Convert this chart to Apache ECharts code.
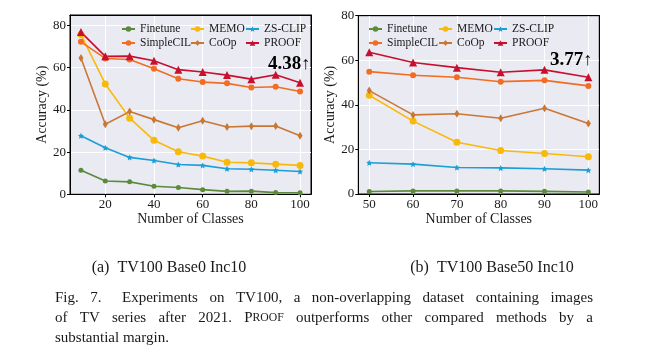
<!DOCTYPE html>
<html><head><meta charset="utf-8">
<script src="https://cdn.jsdelivr.net/npm/echarts@6/dist/echarts.min.js"></script>
<style>html,body{margin:0;padding:0;background:#fff}#c{width:648px;height:360px}</style>
</head><body><div id="c"></div>
<script>
// ---- data ----
const classesA = [10, 20, 30, 40, 50, 60, 70, 80, 90, 100];
const finetuneA = [11.4, 6.3, 5.9, 3.8, 3.2, 2.2, 1.4, 1.5, 0.8, 0.7];
const memoA = [75.7, 52.3, 36.1, 25.6, 20.2, 18.1, 15.2, 14.9, 14.3, 13.7];
const zsclipA = [27.8, 22.1, 17.5, 16.0, 14.1, 13.7, 12.1, 11.9, 11.4, 10.8];
const simplecilA = [72.3, 64.4, 63.9, 59.5, 54.8, 53.2, 52.6, 50.6, 51.0, 48.7];
const coopA = [64.6, 33.2, 39.2, 35.4, 31.5, 34.9, 31.9, 32.3, 32.4, 27.8];
const proofA = [76.9, 65.4, 65.5, 63.3, 59.1, 58.0, 56.5, 54.6, 56.7, 52.9];

const classesB = [50, 60, 70, 80, 90, 100];
const finetuneB = [1.1, 1.4, 1.4, 1.4, 1.2, 0.9];
const memoB = [44.3, 32.7, 23.2, 19.5, 18.2, 16.7];
const zsclipB = [14.0, 13.4, 11.9, 11.7, 11.3, 10.7];
const simplecilB = [54.9, 53.3, 52.4, 50.4, 51.0, 48.5];
const coopB = [46.4, 35.5, 36.0, 34.0, 38.5, 31.6];
const proofB = [63.6, 59.0, 56.7, 54.6, 55.7, 52.4];

const xTicksA = [20, 40, 60, 80, 100];
const xTicksB = [50, 60, 70, 80, 90, 100];
const yTicks = [0, 20, 40, 60, 80];
const gainA = '4.38';
const gainB = '3.77';
const subCapA = '(a)  TV100 Base0 Inc10';
const subCapB = '(b)  TV100 Base50 Inc10';

// ---- styles ----
const F = 'Liberation Serif';
const styles = {
  'Finetune':  {color: '#5b8a3a', symbol: 'circle', size: 5},
  'MEMO':      {color: '#f9b90a', symbol: 'circle', size: 7},
  'ZS-CLIP':   {color: '#1a9fd6', symbol: 'path://M0,-10L2.9,-4L9.5,-3.1L4.8,1.5L5.9,8.1L0,5L-5.9,8.1L-4.8,1.5L-9.5,-3.1L-2.9,-4Z', size: 6},
  'SimpleCIL': {color: '#f26c22', symbol: 'circle', size: 6},
  'CoOp':      {color: '#c97733', symbol: 'path://M0,-10L4,0L0,10L-4,0Z', size: [5, 8]},
  'PROOF':     {color: '#c8102e', symbol: 'triangle', size: 8}
};

function mk(name, xs, ys, idx) {
  const s = styles[name];
  return {
    name, type: 'line', xAxisIndex: idx, yAxisIndex: idx,
    data: xs.map((x, i) => [x, ys[i]]),
    symbol: s.symbol, symbolSize: s.size, showSymbol: true,
    lineStyle: {width: 1.6, color: s.color},
    itemStyle: {color: s.color},
    z: 3, animation: false
  };
}

const seriesList = [
  mk('Finetune', classesA, finetuneA, 0), mk('MEMO', classesA, memoA, 0), mk('ZS-CLIP', classesA, zsclipA, 0),
  mk('SimpleCIL', classesA, simplecilA, 0), mk('CoOp', classesA, coopA, 0), mk('PROOF', classesA, proofA, 0),
  mk('Finetune', classesB, finetuneB, 1), mk('MEMO', classesB, memoB, 1), mk('ZS-CLIP', classesB, zsclipB, 1),
  mk('SimpleCIL', classesB, simplecilB, 1), mk('CoOp', classesB, coopB, 1), mk('PROOF', classesB, proofB, 1)
];

function leg(names, left, top) {
  return {
    data: names, left, top, orient: 'vertical', padding: 0,
    itemWidth: 13, itemHeight: 7, itemGap: 1, selectedMode: false,
    textStyle: {fontFamily: F, fontSize: 11.5, color: '#1a1a1a', lineHeight: 13}
  };
}

function xAx(idx, min, max, ticks) {
  return {
    type: 'value', gridIndex: idx, min, max,
    name: 'Number of Classes', nameLocation: 'middle', nameGap: 17,
    nameTextStyle: {fontFamily: F, fontSize: 14, color: '#1a1a1a'},
    axisLine: {show: true, onZero: false, lineStyle: {color: '#000', width: 1}},
    axisTick: {show: true, length: 3, customValues: ticks, lineStyle: {color: '#000'}},
    axisLabel: {customValues: ticks, fontFamily: F, fontSize: 13, color: '#1a1a1a', margin: 4},
    splitLine: {show: true, lineStyle: {color: '#fff', width: 1}}
  };
}
function yAx(idx, max) {
  return {
    type: 'value', gridIndex: idx, min: 0, max,
    name: 'Accuracy (%)', nameLocation: 'middle', nameGap: 20,
    nameTextStyle: {fontFamily: F, fontSize: 14, color: '#1a1a1a'},
    axisLine: {show: true, lineStyle: {color: '#000', width: 1}},
    axisTick: {show: true, length: 3, customValues: yTicks, lineStyle: {color: '#000'}},
    axisLabel: {customValues: yTicks, fontFamily: F, fontSize: 13, color: '#1a1a1a', margin: 4},
    splitLine: {show: true, lineStyle: {color: '#fff', width: 1}}
  };
}
// frame axes (top / right) that only draw the black box edge
function frameX(idx, min, max) {
  return {type: 'value', gridIndex: idx, position: 'top', min, max, z: 5,
    axisLine: {show: true, onZero: false, lineStyle: {color: '#000', width: 1}},
    axisTick: {show: false}, axisLabel: {show: false}, splitLine: {show: false}};
}
function frameY(idx, max) {
  return {type: 'value', gridIndex: idx, position: 'right', min: 0, max, z: 5,
    axisLine: {show: true, onZero: false, lineStyle: {color: '#000', width: 1}},
    axisTick: {show: false}, axisLabel: {show: false}, splitLine: {show: false}};
}

// ---- caption layout (justified lines) ----
const ctx = document.createElement('canvas').getContext('2d');
const CAP = 15;
const SUB = 16;
function w(t, size) { ctx.font = size + 'px "' + F + '"'; return ctx.measureText(t).width; }
function wordEls(word) {
  if (word === 'PROOF') {
    return [{t: 'P', s: CAP}, {t: 'ROOF', s: CAP * 0.78}];
  }
  return [{t: word, s: CAP}];
}
const graphics = [];
function justifyLine(words, x0, x1, y, justify, extraAfter) {
  const items = words.map(wd => {
    const parts = wordEls(wd);
    return {parts, width: parts.reduce((a, p) => a + w(p.t, p.s), 0)};
  });
  const total = items.reduce((a, it) => a + it.width, 0);
  const extra = extraAfter ? extraAfter.gap : 0;
  const gap = justify ? (x1 - x0 - total - extra) / (items.length - 1) : w(' ', CAP);
  let x = x0;
  items.forEach((it, i) => {
    let px = x;
    it.parts.forEach(p => {
      graphics.push({type: 'text', left: px, top: y - CAP / 2 - (p.s < CAP ? -CAP * 0.12 : 0),
        style: {text: p.t, font: p.s + 'px "' + F + '"', fill: '#1a1a1a'}});
      px += w(p.t, p.s);
    });
    x += it.width + gap + (extraAfter && i === extraAfter.index ? extra : 0);
  });
}
justifyLine(['Fig.', '7.', 'Experiments', 'on', 'TV100,', 'a', 'non-overlapping', 'dataset', 'containing', 'images'], 55, 593, 298, true, {index: 1, gap: 9});
justifyLine(['of', 'TV', 'series', 'after', '2021.', 'PROOF', 'outperforms', 'other', 'compared', 'methods', 'by', 'a'], 55, 593, 318, true);
justifyLine(['substantial', 'margin.'], 55, 593, 338, false);

graphics.push(
  {type: 'text', left: 169 - w(subCapA, SUB) / 2, top: 268 - SUB / 2, style: {text: subCapA, font: SUB + 'px "' + F + '"', fill: '#1a1a1a'}},
  {type: 'text', left: 492 - w(subCapB, SUB) / 2, top: 268 - SUB / 2, style: {text: subCapB, font: SUB + 'px "' + F + '"', fill: '#1a1a1a'}},
  {type: 'text', left: 268, top: 55, z: 10, style: {text: '{b|' + gainA + '}{a|↑}', rich: {b: {fontFamily: F, fontSize: 19, fontWeight: 'bold', fill: '#000'}, a: {fontFamily: F, fontSize: 18, fill: '#000'}}}},
  {type: 'text', left: 550, top: 51, z: 10, style: {text: '{b|' + gainB + '}{a|↑}', rich: {b: {fontFamily: F, fontSize: 19, fontWeight: 'bold', fill: '#000'}, a: {fontFamily: F, fontSize: 18, fill: '#000'}}}}
);

const chart = echarts.init(document.getElementById('c'), null, {renderer: 'canvas'});
chart.setOption({
  animation: false,
  backgroundColor: '#fff',
  grid: [
    {left: 70, top: 15, width: 241, height: 179.3, show: true, backgroundColor: '#eaeaf2', borderColor: '#000', borderWidth: 1},
    {left: 358.3, top: 15.7, width: 241, height: 178.3, show: true, backgroundColor: '#eaeaf2', borderColor: '#000', borderWidth: 1}
  ],
  xAxis: [xAx(0, 5.5, 104.5, xTicksA), xAx(1, 47.5, 102.5, xTicksB), frameX(0, 5.5, 104.5), frameX(1, 47.5, 102.5)],
  yAxis: [yAx(0, 85), yAx(1, 80), frameY(0, 85), frameY(1, 80)],
  legend: [
    leg(['Finetune', 'SimpleCIL'], 121, 22.5), leg(['MEMO', 'CoOp'], 190, 22.5), leg(['ZS-CLIP', 'PROOF'], 245, 22.5),
    leg(['Finetune', 'SimpleCIL'], 368, 22.5), leg(['MEMO', 'CoOp'], 438, 22.5), leg(['ZS-CLIP', 'PROOF'], 493, 22.5)
  ],
  series: seriesList,
  graphic: graphics
});
</script></body></html>
